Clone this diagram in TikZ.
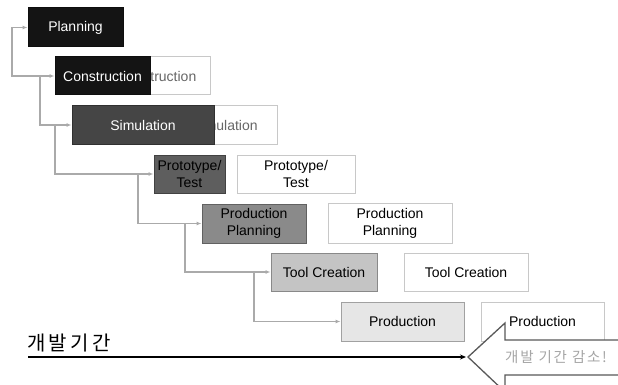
\documentclass[tikz,border=0pt]{standalone}
\usepackage{fontspec}
\setmainfont{Liberation Sans}
\newfontfamily\kr{Noto Sans CJK KR}
\newfontfamily\krwide[LetterSpace=16]{Noto Sans CJK KR}
\newfontfamily\krnote[LetterSpace=12]{Noto Sans CJK KR}
\usetikzlibrary{arrows.meta}
\definecolor{cblack}{HTML}{141414}
\definecolor{csim}{HTML}{454545}
\definecolor{cproto}{HTML}{5E5E5E}
\definecolor{cpp}{HTML}{8A8A8A}
\definecolor{ctool}{HTML}{C4C4C4}
\definecolor{cprod}{HTML}{E6E6E6}
\definecolor{cconn}{HTML}{AAAAAA}
\definecolor{cghost}{HTML}{C8C8C8}
\tikzset{
  box/.style={draw=#1!70!black, line width=1pt, inner sep=0pt, align=center,
    font=\fontsize{14}{17}\selectfont},
  ghostbox/.style={draw=cghost, fill=white, line width=1pt, inner sep=0pt, align=center,
    font=\fontsize{14}{17}\selectfont},
  gconn/.style={draw=cconn, line width=1.3pt, -{Latex[length=5pt,width=4pt]}},
}
\begin{document}
\begin{tikzpicture}[x=1pt,y=-1pt]
\clip (0,0) rectangle (618,385);
\fill[white] (0,0) rectangle (618,385);

% junction coordinates
\coordinate (j0) at (12,27.5);
\coordinate (j1) at (40,76);
\coordinate (j2) at (55,125);
\coordinate (j3) at (138,174);
\coordinate (j4) at (185,223.5);
\coordinate (j5) at (254,272);

% ghost (original schedule) boxes
\node[ghostbox, minimum width=106pt, minimum height=38pt, text=black!60] (gcon) at (157,76) {Construction};
\node[ghostbox, minimum width=104pt, minimum height=38pt, text=black!60] (gsim) at (225,125) {Simulation};
\node[ghostbox, minimum width=118pt, minimum height=38pt] (gproto) at (296,174) {Prototype/\\Test};
\node[ghostbox, minimum width=124pt, minimum height=40pt] (gpp) at (390,223) {Production\\Planning};
\node[ghostbox, minimum width=124pt, minimum height=38pt] (gtool) at (466,272) {Tool Creation};
\node[ghostbox, minimum width=123pt, minimum height=39pt] (gprod) at (542.5,321.5) {Production};

% shortened schedule boxes
\node[box=cblack, fill=cblack, text=white, minimum width=95pt, minimum height=39pt] (plan) at (75.5,27.5) {Planning};
\node[box=cblack, fill=cblack, text=white, minimum width=95pt, minimum height=38pt] (con) at (102.5,76) {Construction};
\node[box=csim, fill=csim, text=white, minimum width=142pt, minimum height=38pt] (sim) at (143,125) {Simulation};
\node[box=cproto, fill=cproto, text=black, minimum width=71pt, minimum height=38pt] (proto) at (189.5,174) {Prototype/\\Test};
\node[box=cpp, fill=cpp, text=black, minimum width=104pt, minimum height=39pt] (pp) at (254,223.5) {Production\\Planning};
\node[box=ctool, fill=ctool, text=black, minimum width=106pt, minimum height=38pt] (tool) at (324,272) {Tool Creation};
\node[box=cprod, fill=cprod, text=black, minimum width=123pt, minimum height=39pt] (prod) at (402.5,321.5) {Production};

% connectors
\draw[gconn] (j0) -- (plan.west);
\draw[gconn] (j0) |- (con.west);
\draw[gconn] (j1) |- (sim.west);
\draw[gconn] (j2) |- (proto.west);
\draw[gconn] (j3) |- (pp.west);
\draw[gconn] (j4) |- (tool.west);
\draw[gconn] (j5) |- (prod.west);

% big hollow arrow
\coordinate (tip) at (468,357);
\filldraw[fill=white, draw=black!65, line width=1.3pt]
  (630,340) -- (505,340) -- (505,323) -- (tip) -- (505,392) -- (505,375) -- (630,375);
\node[font=\krnote\fontsize{14.5}{16}\selectfont, text=black!35, anchor=west, inner sep=0pt] (less) at (505,357) {개발 기간 감소!};

% timeline
\node[font=\krwide\fontsize{20}{24}\selectfont, anchor=south west, inner sep=0pt] (tl) at (27,352) {개발기간};
\coordinate (tl0) at (28,357);
\coordinate (tl1) at (466,357);
\draw[line width=1.5pt, -{Stealth[length=6pt,width=5pt]}] (tl0) -- (tl1);
\end{tikzpicture}
\end{document}
